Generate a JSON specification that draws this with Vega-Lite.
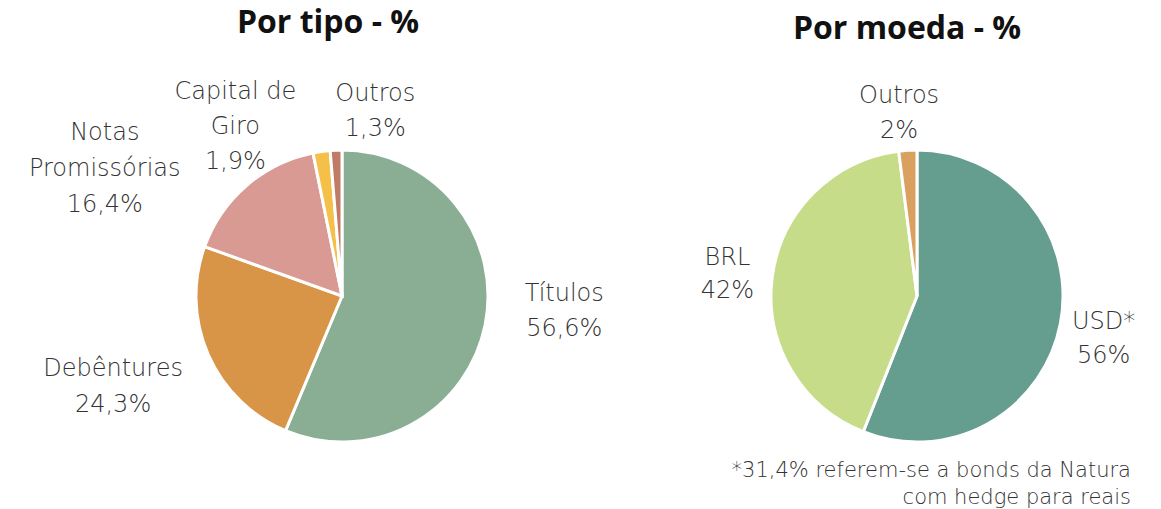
{
  "$schema": "https://vega.github.io/schema/vega-lite/v6.json",
  "background": "white",
  "padding": {"left": 0, "top": 7, "right": 0, "bottom": 0},
  "spacing": 0,
  "bounds": "flush",
  "resolve": {"scale": {"color": "independent", "theta": "independent"}},
  "config": {"view": {"stroke": null}, "font": "DejaVu Sans"},
  "title": {
    "text": ["*31,4% referem-se a bonds da Natura", "com hedge para reais"],
    "orient": "bottom", "anchor": "end", "fontSize": 21, "fontWeight": 300,
    "color": "#333333", "dx": -19, "offset": 12, "lineHeight": 27, "font": "DejaVu Sans"
  },
  "hconcat": [
    {
      "width": 684, "height": 300,
      "title": {"text": "Por tipo - %", "fontSize": 32, "fontWeight": "bold", "color": "#111111", "offset": 15, "dx": -14, "font": "Open Sans"},
      "data": {"values": [
        {"categoria": "Títulos", "valor": 56.6, "ordem": 1, "rotulo": "Títulos\n56,6%"},
        {"categoria": "Debêntures", "valor": 24.3, "ordem": 2, "rotulo": "Debêntures\n24,3%"},
        {"categoria": "Notas Promissórias", "valor": 16.4, "ordem": 3, "rotulo": "Notas\nPromissórias\n16,4%"},
        {"categoria": "Capital de Giro", "valor": 1.9, "ordem": 4, "rotulo": "Capital de\nGiro\n1,9%"},
        {"categoria": "Outros", "valor": 1.3, "ordem": 5, "rotulo": "Outros\n1,3%"}
      ]},
      "encoding": {
        "theta": {"field": "valor", "type": "quantitative", "stack": true},
        "order": {"field": "ordem", "type": "quantitative"},
        "detail": {"field": "categoria", "type": "nominal"}
      },
      "layer": [
        {
          "mark": {"type": "arc", "outerRadius": 146, "stroke": "white", "strokeWidth": 3},
          "encoding": {
            "color": {"field": "categoria", "type": "nominal", "legend": null,
              "scale": {"domain": ["Títulos", "Debêntures", "Notas Promissórias", "Capital de Giro", "Outros"],
                        "range": ["#8aae93", "#d89447", "#d99a93", "#f5c04a", "#c07b66"]}}
          }
        },
        {
          "mark": {"type": "text", "radius": 190, "dx": 36, "dy": -39, "fontSize": 24, "fontWeight": 300, "lineHeight": 35, "lineBreak": "\n", "color": "#333333", "align": "center", "baseline": "middle"},
          "encoding": {"text": {"condition": {"test": "datum.categoria === 'Títulos'", "field": "rotulo"}, "value": ""}}
        },
        {
          "mark": {"type": "text", "radius": 190, "dx": -55, "dy": -3, "fontSize": 24, "fontWeight": 300, "lineHeight": 36, "lineBreak": "\n", "color": "#333333", "align": "center", "baseline": "middle"},
          "encoding": {"text": {"condition": {"test": "datum.categoria === 'Debêntures'", "field": "rotulo"}, "value": ""}}
        },
        {
          "mark": {"type": "text", "radius": 190, "dx": -113, "dy": -19, "fontSize": 24, "fontWeight": 300, "lineHeight": 36, "lineBreak": "\n", "color": "#333333", "align": "center", "baseline": "middle"},
          "encoding": {"text": {"condition": {"test": "datum.categoria === 'Notas Promissórias'", "field": "rotulo"}, "value": ""}}
        },
        {
          "mark": {"type": "text", "radius": 190, "dx": -80, "dy": -16, "fontSize": 24, "fontWeight": 300, "lineHeight": 35, "lineBreak": "\n", "color": "#333333", "align": "center", "baseline": "middle"},
          "encoding": {"text": {"condition": {"test": "datum.categoria === 'Capital de Giro'", "field": "rotulo"}, "value": ""}}
        },
        {
          "mark": {"type": "text", "radius": 190, "dx": 41, "dy": -12, "fontSize": 24, "fontWeight": 300, "lineHeight": 35, "lineBreak": "\n", "color": "#333333", "align": "center", "baseline": "middle"},
          "encoding": {"text": {"condition": {"test": "datum.categoria === 'Outros'", "field": "rotulo"}, "value": ""}}
        }
      ]
    },
    {
      "width": 466, "height": 300,
      "title": {"text": "Por moeda - %", "fontSize": 32, "fontWeight": "bold", "color": "#111111", "offset": 34, "dx": -10, "font": "Open Sans"},
      "data": {"values": [
        {"categoria": "USD", "valor": 56, "ordem": 1, "rotulo": "USD*\n56%"},
        {"categoria": "BRL", "valor": 42, "ordem": 2, "rotulo": "BRL\n42%"},
        {"categoria": "Outros", "valor": 2, "ordem": 3, "rotulo": "Outros\n2%"}
      ]},
      "encoding": {
        "theta": {"field": "valor", "type": "quantitative", "stack": true},
        "order": {"field": "ordem", "type": "quantitative"},
        "detail": {"field": "categoria", "type": "nominal"}
      },
      "layer": [
        {
          "mark": {"type": "arc", "outerRadius": 146, "stroke": "white", "strokeWidth": 3},
          "encoding": {
            "color": {"field": "categoria", "type": "nominal", "legend": null,
              "scale": {"domain": ["USD", "BRL", "Outros"], "range": ["#659e8f", "#c7dc88", "#d9a060"]}}
          }
        },
        {
          "mark": {"type": "text", "radius": 190, "dx": 0, "dy": -10, "fontSize": 24, "fontWeight": 300, "lineHeight": 34, "lineBreak": "\n", "color": "#333333", "align": "center", "baseline": "middle"},
          "encoding": {"text": {"condition": {"test": "datum.categoria === 'USD'", "field": "rotulo"}, "value": ""}}
        },
        {
          "mark": {"type": "text", "radius": 190, "dx": -1, "dy": -14, "fontSize": 24, "fontWeight": 300, "lineHeight": 33, "lineBreak": "\n", "color": "#333333", "align": "center", "baseline": "middle"},
          "encoding": {"text": {"condition": {"test": "datum.categoria === 'BRL'", "field": "rotulo"}, "value": ""}}
        },
        {
          "mark": {"type": "text", "radius": 190, "dx": -6, "dy": -10, "fontSize": 24, "fontWeight": 300, "lineHeight": 35, "lineBreak": "\n", "color": "#333333", "align": "center", "baseline": "middle"},
          "encoding": {"text": {"condition": {"test": "datum.categoria === 'Outros'", "field": "rotulo"}, "value": ""}}
        }
      ]
    }
  ]
}
